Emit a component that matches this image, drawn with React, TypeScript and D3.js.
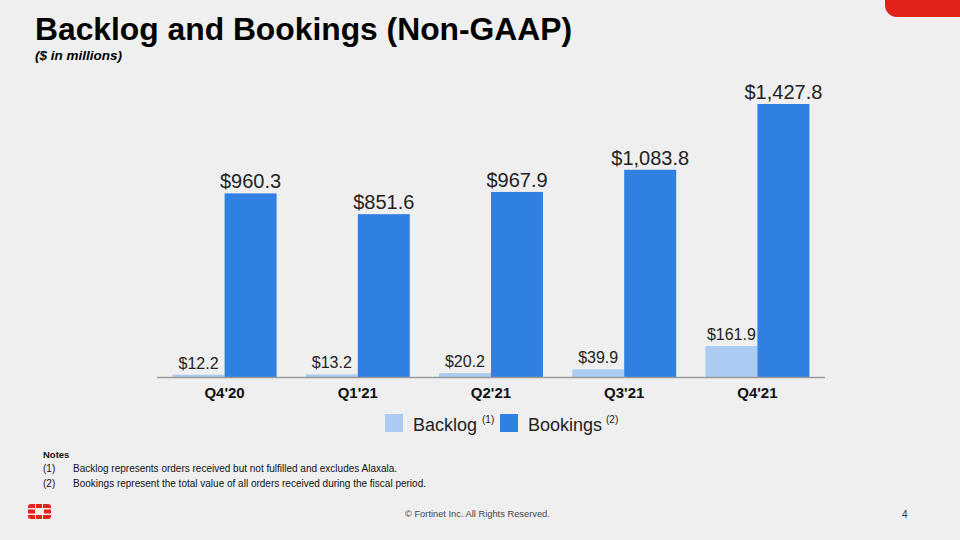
import React from "react";
import * as d3 from "d3";

const categories = ["Q4'20", "Q1'21", "Q2'21", "Q3'21", "Q4'21"];
const backlog = [12.2, 13.2, 20.2, 39.9, 161.9];
const bookings = [960.3, 851.6, 967.9, 1083.8, 1427.8];
const seriesNames = ["Backlog", "Bookings"];
const seriesNotes = ["(1)", "(2)"];
const notes = [
  "Backlog represents orders received but not fulfilled and excludes Alaxala.",
  "Bookings represent the total value of all orders received during the fiscal period.",
];

const FONT = "'Liberation Sans', Arial, Helvetica, sans-serif";
const C_BACK = "#abcbf2";
const C_BOOK = "#2f80e1";
const RED = "#e2231a";

export default function App() {
  const x0 = d3.scaleBand<string>().domain(categories).range([158, 824]).paddingInner(0).paddingOuter(0);
  const inner = d3.scaleBand<string>().domain(seriesNames).range([0, 104]);
  const groupOffset = (x0.bandwidth() - 104) / 2;
  const y = d3.scaleLinear().domain([0, 1427.8]).range([377, 104]);
  const fmt = (v: number) => "$" + d3.format(",.1f")(v);

  const series = [backlog, bookings];
  const colors = [C_BACK, C_BOOK];

  return (
    <svg
      width={960}
      height={540}
      style={{ position: "absolute", left: 0, top: 0, background: "#efefef" }}
      fontFamily={FONT}
    >
      <rect x={0} y={0} width={960} height={540} fill="#efefef" />
      {/* top-right red tab */}
      <path d="M885,0 H960 V17 H897 A12,12 0 0 1 885,5 Z" fill={RED} />

      <text x={35} y={40} fontSize={31.8} fontWeight="bold" fill="#000">
        Backlog and Bookings (Non-GAAP)
      </text>
      <text x={35} y={59.5} fontSize={13.5} fontWeight="bold" fontStyle="italic" fill="#000">
        ($ in millions)
      </text>

      {categories.map((c, i) => (
        <g key={c}>
          {series.map((s, si) => {
            const bx = (x0(c) as number) + groupOffset + (inner(seriesNames[si]) as number);
            const bw = inner.bandwidth();
            const top = y(s[i]);
            return (
              <g key={si}>
                <rect x={bx} y={top} width={bw} height={y(0) - top} fill={colors[si]} />
                <text
                  x={bx + bw / 2}
                  y={top - (si === 0 ? 6 : 5)}
                  textAnchor="middle"
                  fontSize={si === 0 ? 16 : 20}
                  fill="#222"
                >
                  {fmt(s[i])}
                </text>
              </g>
            );
          })}
          <text
            x={(x0(c) as number) + x0.bandwidth() / 2}
            y={398}
            textAnchor="middle"
            fontSize={15}
            fontWeight="bold"
            fill="#111"
          >
            {c}
          </text>
        </g>
      ))}
      <line x1={157} x2={825} y1={377.5} y2={377.5} stroke="#9a9a9a" strokeWidth={1.5} />

      {/* legend */}
      {seriesNames.map((n, i) => {
        const lx = i === 0 ? 385 : 500;
        return (
          <g key={n}>
            <rect x={lx} y={414} width={18} height={18} fill={colors[i]} />
            <text x={lx + 28} y={431} fontSize={18} fill="#222">
              {n}
            </text>
            <text x={i === 0 ? 482 : 606} y={423} fontSize={10} fill="#222">
              {seriesNotes[i]}
            </text>
          </g>
        );
      })}

      {/* notes */}
      <text x={43} y={458} fontSize={9.5} fontWeight="bold" fill="#111">
        Notes
      </text>
      {notes.map((t, i) => (
        <g key={i}>
          <text x={43} y={472 + i * 14.5} fontSize={10} fill="#111">
            {seriesNotes[i]}
          </text>
          <text x={73} y={472 + i * 14.5} fontSize={10} fill="#111">
            {t}
          </text>
        </g>
      ))}

      {/* logo */}
      <g fill={RED}>
        <path d="M28,507 a3,3 0 0 1 3,-3 h4 v4 h-7 z" />
        <rect x={36} y={504} width={6} height={4} />
        <path d="M43,504 h5 a3,3 0 0 1 3,3 v1 h-8 z" />
        <rect x={28} y={509.5} width={7} height={4} />
        <rect x={44} y={509.5} width={7} height={4} />
        <path d="M28,515 h7 v4 h-4 a3,3 0 0 1 -3,-3 z" />
        <rect x={36} y={515} width={6} height={4} />
        <path d="M43,515 h8 v1 a3,3 0 0 1 -3,3 h-5 z" />
      </g>

      <text x={405} y={517} fontSize={9.3} fill="#444">
        © Fortinet Inc. All Rights Reserved.
      </text>
      <text x={902} y={518} fontSize={10} fill="#333">
        4
      </text>
    </svg>
  );
}
